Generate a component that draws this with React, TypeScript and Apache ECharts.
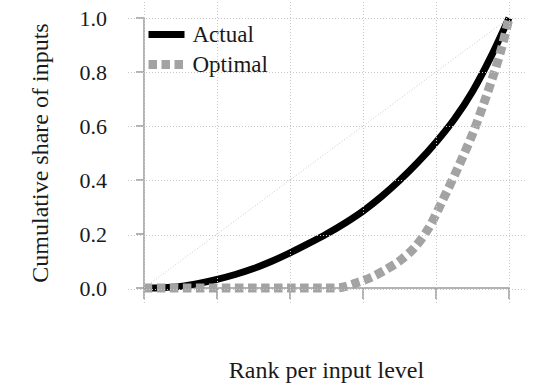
import React, { useEffect, useRef } from "react";
import * as echarts from "echarts";

const actualX = [0, 0.05, 0.1, 0.15, 0.2, 0.25, 0.3, 0.35, 0.4, 0.45, 0.5, 0.55, 0.6, 0.65, 0.7, 0.75, 0.8, 0.85, 0.9, 0.95, 1];
const actualY = [0, 0.001, 0.006, 0.017, 0.032, 0.05, 0.072, 0.099, 0.13, 0.164, 0.2, 0.24, 0.285, 0.338, 0.398, 0.465, 0.54, 0.625, 0.728, 0.855, 1.0];

const optimalX = [0, 0.5, 0.54, 0.58, 0.62, 0.66, 0.7, 0.74, 0.78, 0.82, 0.86, 0.9, 0.93, 0.96, 0.98, 1];
const optimalY = [0, 0, 0.002, 0.018, 0.038, 0.066, 0.1, 0.148, 0.222, 0.33, 0.445, 0.57, 0.68, 0.8, 0.89, 1];

const equalityX = [0, 1];
const equalityY = [0, 1];

const gridTicks = [0, 0.2, 0.4, 0.6, 0.8, 1.0];

const seriesNames = ["Actual", "Optimal"];
const xTitle = "Rank per input level";
const yTitle = "Cumulative share of inputs";

const FONT = "Liberation Serif";
const TEXT = "#1a1a1a";
const AXIS = "#9a9a9a";
const GRIDC = "#c8c8c8";
const BLACK = "#000";
const GRAY = "#a3a3a3";

export default function App() {
  const ref = useRef<HTMLDivElement>(null);
  useEffect(() => {
    if (!ref.current) return;
    const chart = echarts.init(ref.current, undefined, { renderer: "svg" });
    const zip = (xs: number[], ys: number[]) => xs.map((x, i) => [x, ys[i]]);
    const gridLineStyle = { color: GRIDC, width: 1, type: [1, 2] as number[] };
    const actualLine = { color: BLACK, width: 7 };
    const optimalLine = { color: GRAY, width: 9, type: [8.5, 4.5] as number[], cap: "butt" };
    chart.setOption({
      animation: false,
      backgroundColor: "#fff",
      textStyle: { fontFamily: FONT },
      grid: [
        { left: 144, right: 34, top: 18, bottom: 98, containLabel: false },
        { left: 128, right: 18, top: 0, bottom: 84, containLabel: false },
      ],
      xAxis: [
        {
          type: "value",
          gridIndex: 0,
          min: 0,
          max: 1,
          interval: 0.2,
          offset: 18,
          axisLine: { show: true, lineStyle: { color: AXIS, width: 1.5 } },
          axisTick: { show: true, length: 11, lineStyle: { color: AXIS, width: 1.5 } },
          axisLabel: { show: false },
          splitLine: { show: false },
          name: xTitle,
          nameLocation: "middle",
          nameGap: 52,
          nameTextStyle: { fontFamily: FONT, fontSize: 24, color: TEXT },
        },
        {
          type: "value",
          gridIndex: 1,
          min: -16 / 365,
          max: 1 + 16 / 365,
          show: false,
        },
      ],
      yAxis: [
        {
          type: "value",
          gridIndex: 0,
          min: 0,
          max: 1,
          interval: 0.2,
          offset: 20,
          axisLine: { show: true, lineStyle: { color: AXIS, width: 1.5 } },
          axisTick: { show: true, length: 8, lineStyle: { color: AXIS, width: 1.5 } },
          axisLabel: {
            show: true,
            margin: 17,
            fontFamily: FONT,
            fontSize: 22,
            color: TEXT,
            formatter: (v: number) => v.toFixed(1),
          },
          splitLine: { show: false },
          name: yTitle,
          nameLocation: "middle",
          nameGap: 72,
          nameTextStyle: { fontFamily: FONT, fontSize: 24, color: TEXT },
        },
        {
          type: "value",
          gridIndex: 1,
          min: -14 / 271,
          max: 1 + 18 / 271,
          show: false,
        },
      ],
      legend: {
        data: [
          { name: seriesNames[0], lineStyle: actualLine },
          { name: seriesNames[1], lineStyle: optimalLine },
        ],
        orient: "vertical",
        left: 139,
        top: 18,
        itemWidth: 36,
        itemHeight: 14,
        itemGap: 7,
        itemStyle: { opacity: 0 },
        textStyle: { fontFamily: FONT, fontSize: 23, color: TEXT, padding: [0, 0, 0, 3] },
        selectedMode: false,
      },
      series: [
        {
          type: "line",
          name: "grid",
          xAxisIndex: 1,
          yAxisIndex: 1,
          data: [[0, 0]],
          symbol: "none",
          lineStyle: { opacity: 0 },
          silent: true,
          markLine: {
            silent: true,
            symbol: "none",
            label: { show: false },
            lineStyle: gridLineStyle,
            emphasis: { disabled: true },
            data: [
              ...gridTicks.map((v) => ({ xAxis: v })),
              ...gridTicks.map((v) => ({ yAxis: v })),
            ],
          },
          z: 1,
        },
        {
          type: "line",
          name: "equality",
          xAxisIndex: 0,
          yAxisIndex: 0,
          data: zip(equalityX, equalityY),
          symbol: "none",
          lineStyle: { color: GRIDC, width: 1, type: [1, 2] },
          silent: true,
          z: 2,
        },
        {
          type: "line",
          name: seriesNames[0],
          xAxisIndex: 0,
          yAxisIndex: 0,
          data: zip(actualX, actualY),
          symbol: "none",
          smooth: 0.3,
          clip: false,
          itemStyle: { color: BLACK },
          lineStyle: actualLine,
          z: 3,
        },
        {
          type: "line",
          name: seriesNames[1],
          xAxisIndex: 0,
          yAxisIndex: 0,
          data: zip(optimalX, optimalY),
          symbol: "none",
          smooth: 0.3,
          clip: false,
          itemStyle: { color: GRAY },
          lineStyle: optimalLine,
          z: 4,
        },
      ],
    });
    return () => chart.dispose();
  }, []);
  return (
    <div
      ref={ref}
      style={{ position: "absolute", left: 0, top: 0, width: 543, height: 387 }}
    />
  );
}
